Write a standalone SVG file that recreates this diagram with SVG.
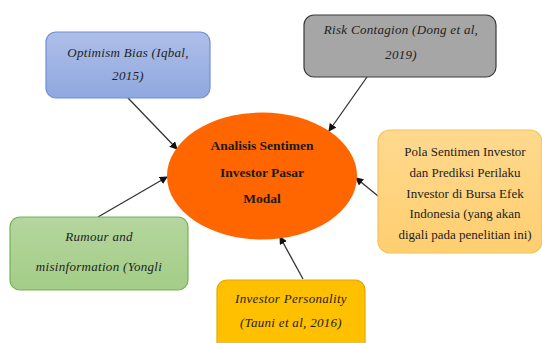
<svg xmlns="http://www.w3.org/2000/svg" width="542" height="343" viewBox="0 0 542 343">
<defs>
<linearGradient id="gBlue" x1="0" y1="0" x2="0" y2="1"><stop offset="0" stop-color="#aebfe8"/><stop offset="1" stop-color="#8fa8e0"/></linearGradient>
<linearGradient id="gGreen" x1="0" y1="0" x2="0" y2="1"><stop offset="0" stop-color="#b5d69e"/><stop offset="1" stop-color="#a3cd87"/></linearGradient>
<linearGradient id="gPeach" x1="0" y1="0" x2="0" y2="1"><stop offset="0" stop-color="#ffd98e"/><stop offset="1" stop-color="#ffcf70"/></linearGradient>
<marker id="arr" markerWidth="8" markerHeight="8" refX="7" refY="4" orient="auto" markerUnits="userSpaceOnUse">
<path d="M0,0 L8,4 L0,8 Z" fill="#111"/>
</marker>
<style>
.it{font-family:"Liberation Serif","Times New Roman",serif;font-style:italic;font-size:13px;fill:#222;text-anchor:middle;letter-spacing:0.3px}
.rg{font-family:"Liberation Serif","Times New Roman",serif;font-size:13px;fill:#222;text-anchor:middle}
.bd{font-family:"Liberation Serif","Times New Roman",serif;font-weight:bold;font-size:13.5px;fill:#1a1a1a;text-anchor:middle}
.ln{stroke:#333;stroke-width:1.3;fill:none;marker-end:url(#arr)}
</style>
</defs>
<g id="connectors">
<line class="ln" x1="128" y1="98" x2="177" y2="149"/>
<line class="ln" x1="367" y1="77" x2="329" y2="131"/>
<line class="ln" x1="378" y1="196" x2="356" y2="178"/>
<line class="ln" x1="98" y1="217" x2="167" y2="177"/>
<line class="ln" x1="303" y1="279" x2="280" y2="237"/>
</g>
<g id="center">
<ellipse cx="262" cy="176" rx="95" ry="63.5" fill="#ff6600"/>
<text class="bd" x="262" y="150">Analisis Sentimen</text>
<text class="bd" x="262" y="177">Investor  Pasar</text>
<text class="bd" x="262" y="203">Modal</text>
</g>
<g id="optimism">
<rect x="46" y="32" width="164" height="66" rx="10" fill="url(#gBlue)" stroke="#6e8fd8" stroke-width="1.2"/>
<text class="it" x="128" y="57">Optimism Bias (Iqbal,</text>
<text class="it" x="128" y="80">2015)</text>
</g>
<g id="risk">
<rect x="304" y="15" width="192" height="62" rx="10" fill="#a6a6a6" stroke="#3a3a3a" stroke-width="1.2"/>
<text class="it" x="401" y="34">Risk Contagion (Dong et al,</text>
<text class="it" x="401" y="59">2019)</text>
</g>
<g id="pola">
<rect x="378" y="130" width="164" height="123" rx="12" fill="url(#gPeach)" stroke="#f5c25a" stroke-width="1.2"/>
<text class="rg" x="465" y="156">Pola Sentimen Investor</text>
<text class="rg" x="465" y="177">dan Prediksi Perilaku</text>
<text class="rg" x="465" y="198">Investor di Bursa Efek</text>
<text class="rg" x="465" y="218">Indonesia (yang akan</text>
<text class="rg" x="465" y="239">digali pada penelitian ini)</text>
</g>
<g id="rumour">
<rect x="10" y="217" width="178" height="73" rx="10" fill="url(#gGreen)" stroke="#77b255" stroke-width="1.2"/>
<text class="it" x="99" y="241">Rumour and</text>
<text class="it" x="99" y="271">misinformation  (Yongli</text>
</g>
<g id="personality">
<rect x="217" y="280" width="148" height="75" rx="10" fill="#ffc000" stroke="#e5a800" stroke-width="1.2"/>
<text class="it" x="291" y="303">Investor Personality</text>
<text class="it" x="291" y="327">(Tauni et al, 2016)</text>
</g>
</svg>
